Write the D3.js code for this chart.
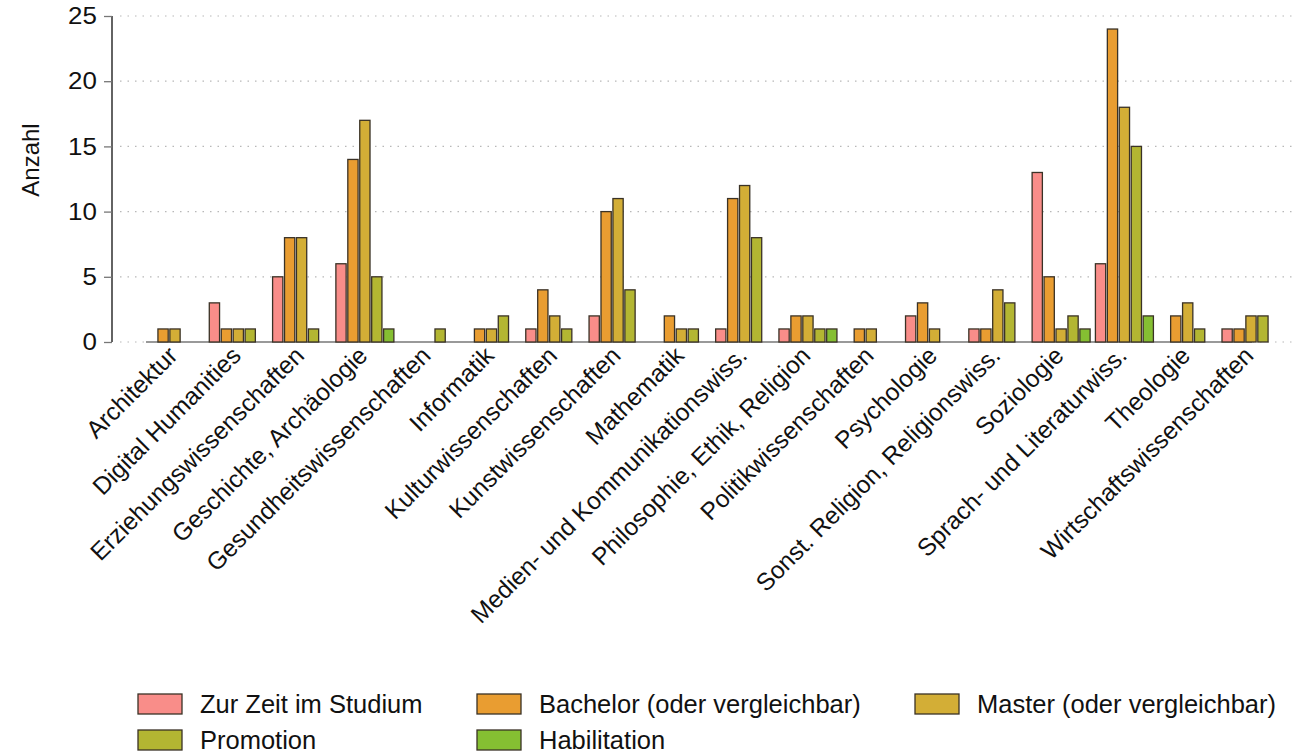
<!DOCTYPE html>
<html>
<head>
<meta charset="utf-8">
<script src="https://cdn.jsdelivr.net/npm/d3@7"></script>
<style>
  body { margin: 0; background: #fff; }
  svg { font-family: "Liberation Sans", Arial, sans-serif; }
</style>
</head>
<body>
<svg id="chart"></svg>
<script>
(function() {
    // categories
    var categories = ["Architektur", "Digital Humanities", "Erziehungswissenschaften",
        "Geschichte, Archäologie", "Gesundheitswissenschaften", "Informatik",
        "Kulturwissenschaften", "Kunstwissenschaften", "Mathematik",
        "Medien- und Kommunikationswiss.", "Philosophie, Ethik, Religion",
        "Politikwissenschaften", "Psychologie", "Sonst. Religion, Religionswiss.",
        "Soziologie", "Sprach- und Literaturwiss.", "Theologie", "Wirtschaftswissenschaften"];

    var seriesNames = ["Zur Zeit im Studium", "Bachelor (oder vergleichbar)",
        "Master (oder vergleichbar)", "Promotion", "Habilitation"];

    // values per series (same order as categories)
    var studium   = [0, 3, 5, 6, 0, 0, 1, 2, 0, 1, 1, 0, 2, 1, 13, 6, 0, 1];
    var bachelor  = [1, 1, 8, 14, 0, 1, 4, 10, 2, 11, 2, 1, 3, 1, 5, 24, 2, 1];
    var master    = [1, 1, 8, 17, 0, 1, 2, 11, 1, 12, 2, 1, 1, 4, 1, 18, 3, 2];
    var promotion = [0, 1, 1, 5, 1, 2, 1, 4, 1, 8, 1, 0, 0, 3, 2, 15, 1, 2];
    var habil     = [0, 0, 0, 1, 0, 0, 0, 0, 0, 0, 1, 0, 0, 0, 1, 2, 0, 0];

    var yTicks = [0, 5, 10, 15, 20, 25];
    var colors = ["#f98d89", "#e99d31", "#d3ae36", "#b3b632", "#85bf32"];

    var allSeries = [studium, bachelor, master, promotion, habil];

    var W = 1297, H = 756;
    var svg = d3.select("#chart").attr("width", W).attr("height", H);

    var axisX = 112;

    // X scales
    var x = d3.scalePoint().domain(categories).range([175, 1251]);
    var xs = d3.scaleBand().domain(d3.range(5)).range([-29, 29]).paddingInner(0.14);

    // Y scale
    var y = d3.scaleLinear().domain([0, 25]).range([342, 16]);

    // gridlines
    svg.append("g").selectAll("line").data(yTicks).enter().append("line")
        .attr("x1", axisX + 8).attr("x2", W)
        .attr("y1", d => y(d)).attr("y2", d => y(d))
        .attr("stroke", "#b8b8b8").attr("stroke-width", 1.2)
        .attr("stroke-dasharray", "1.5,6");

    // y axis
    var yAxis = svg.append("g")
        .attr("transform", "translate(" + axisX + ",0)")
        .call(d3.axisLeft(y).tickValues(yTicks).tickSize(8).tickPadding(6));
    yAxis.select(".domain").attr("stroke", "#222").attr("stroke-width", 1.4)
        .attr("d", "M0," + y(25) + "V" + y(0));
    yAxis.selectAll(".tick line").attr("stroke", "#777").attr("stroke-width", 1.3);
    yAxis.selectAll(".tick text").attr("font-size", 24).attr("fill", "#111")
        .attr("transform", "scale(1.08,1)");

    // y axis label
    svg.append("text")
        .attr("transform", "translate(39,160) rotate(-90)")
        .attr("text-anchor", "middle")
        .attr("font-size", 24)
        .attr("fill", "#111")
        .text("Anzahl");

    // baseline
    svg.append("line")
        .attr("x1", x(categories[0]) - 29).attr("x2", x(categories[categories.length - 1]) + 1)
        .attr("y1", y(0)).attr("y2", y(0))
        .attr("stroke", "#999").attr("stroke-width", 2);

    // bars
    var rows = [];
    categories.forEach(function(c, i) {
        allSeries.forEach(function(s, j) {
            if (s[i] > 0) rows.push({cat: c, s: j, v: s[i]});
        });
    });

    svg.append("g").selectAll("rect").data(rows).enter().append("rect")
        .attr("x", d => x(d.cat) + xs(d.s))
        .attr("y", d => y(d.v))
        .attr("width", xs.bandwidth())
        .attr("height", d => y(0) - y(d.v))
        .attr("fill", d => colors[d.s])
        .attr("stroke", "#3a3226")
        .attr("stroke-width", 1.3);

    // x labels
    svg.append("g").selectAll("text").data(categories).enter().append("text")
        .attr("transform", d => "translate(" + (x(d) + 4) + ",357) rotate(-45)")
        .attr("text-anchor", "end")
        .attr("font-size", 24.5)
        .attr("fill", "#111")
        .text(d => d);

    // legend
    var legX = [138, 477, 915], legY = [704, 740];
    var leg = svg.append("g").selectAll("g").data(seriesNames).enter().append("g")
        .attr("transform", (d, i) => "translate(" + legX[i % 3] + "," + legY[Math.floor(i / 3)] + ")");
    leg.append("rect")
        .attr("x", 0).attr("y", -10).attr("width", 44).attr("height", 20)
        .attr("fill", (d, i) => colors[i])
        .attr("stroke", "#3a3226").attr("stroke-width", 1.3);
    leg.append("text")
        .attr("x", 62).attr("y", 9)
        .attr("font-size", 25.5)
        .attr("fill", "#111")
        .text(d => d);
})();
</script>
</body>
</html>
